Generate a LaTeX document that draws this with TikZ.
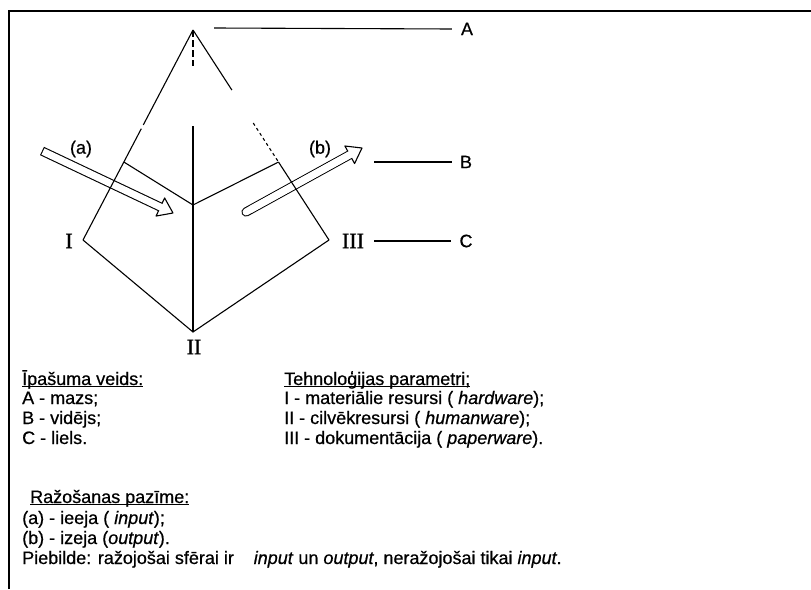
\documentclass[tikz,border=0pt]{standalone}
\usepackage{fontspec}
\setmainfont{Liberation Sans}[FakeBold=0.6]
\newfontfamily\romfont{Liberation Serif}[FakeBold=1.2]
\usetikzlibrary{calc}
\newcommand{\ulhead}[1]{\underline{\smash{#1}}}
\begin{document}
\begin{tikzpicture}[x=1pt,y=-1pt,
  edge/.style={line width=1.1pt},
  frameline/.style={line width=2pt},
  txt/.style={anchor=base west, inner sep=0pt, font=\fontsize{18}{20}\selectfont},
  lbl/.style={inner sep=0pt, font=\fontsize{18}{20}\selectfont},
  roman/.style={inner sep=0pt, font=\romfont\fontsize{22}{24}\selectfont},
]
\useasboundingbox (0,0) rectangle (811,589);
\draw[frameline] (9,589) -- (9,11) -- (811,11);

% pyramid points
\coordinate (apex) at (193,30);
\coordinate (vI) at (83,240);
\coordinate (vIII) at (329,240);
\coordinate (vII) at (193,332);
\coordinate (inL) at ($(apex)!0.6286!(vI)$);
\coordinate (inR) at ($(apex)!0.6286!(vIII)$);
\coordinate (inC) at (193,205);

% arrow (a)
\coordinate (aT) at (42,151);
\coordinate (aP) at (173,213);
\coordinate (aB) at ($(aP)!14pt!(aT)$);
\draw[line width=9.2pt] (aT) -- (aB);
\filldraw[fill=white, line width=1.1pt, line join=round] (aP) -- ($(aB)!10pt!90:(aT)$) -- ($(aB)!10pt!-90:(aT)$) -- cycle;
\draw[white, line width=7pt] ($(aT)!1.1pt!(aP)$) -- ($(aB)!-1.5pt!(aT)$);

% arrow (b)
\coordinate (bT) at (246,212);
\coordinate (bP) at (362,148);
\coordinate (bB) at ($(bP)!14pt!(bT)$);
\draw[line width=9.2pt, line cap=round] (bT) -- (bB);
\filldraw[fill=white, line width=1.1pt, line join=round] (bP) -- ($(bB)!10pt!90:(bT)$) -- ($(bB)!10pt!-90:(bT)$) -- cycle;
\draw[white, line width=7pt, line cap=round] (bT) -- (bB);
\draw[white, line width=7pt] ($(bT)!5pt!(bP)$) -- ($(bB)!-1.5pt!(bT)$);

% edges
\draw[edge] (apex) -- ($(apex)!0.452!(vI)$);
\draw[edge] ($(apex)!0.47!(vI)$) -- (vI);
\draw[edge] (apex) -- ($(apex)!0.286!(vIII)$);
\draw[edge, dash pattern=on 3pt off 3pt] ($(apex)!0.443!(vIII)$) -- (inR);
\draw[edge] (inR) -- (vIII);
\draw[edge, dash pattern=on 7pt off 3pt] (apex) -- (193,66);
\draw[edge] (193,126) -- (vII);
\draw[edge] (inL) -- (inC) -- (inR);
\draw[edge] (vI) -- (vII) -- (vIII);

% labels
\node[roman] (lI) at (69,241) {I};
\node[roman] (lII) at (194,347) {II};
\node[roman] (lIII) at (353,241) {III};
\node[lbl] (lA) at (467,29) {A};
\node[lbl] (lB) at (466,162) {B};
\node[lbl] (lC) at (466,241) {C};
\node[lbl] (la) at (81,149) {(a)};
\node[lbl] (lb) at (320,149) {(b)};
\coordinate (aS) at (214,28);
\coordinate (bS) at (374,162);
\draw[edge] (aS) -- ([xshift=-9pt]lA.west);
\draw[edge] (bS) -- ([xshift=-8pt]lB.west);
\draw[edge] ([xshift=10pt]lIII.east) -- ([xshift=-8pt]lC.west);

% text
\node[txt] (t1) at (22,385) {\ulhead{Īpašuma veids:}};
\node[txt] (t2) at (22,404) {A - mazs;};
\node[txt] (t3) at (22,424) {B - vidējs;};
\node[txt] (t4) at (22,444) {C - liels.};
\node[txt] (u1) at (284,385) {\ulhead{Tehnoloģijas parametri;}};
\node[txt] (u2) at (284,404) {I - materiālie resursi ( \textit{hardware});};
\node[txt] (u3) at (284,424) {II - cilvēkresursi ( \textit{humanware});};
\node[txt] (u4) at (284,444) {III - dokumentācija ( \textit{paperware}).};
\node[txt] (v1) at (30,503) {\ulhead{Ražošanas pazīme:}};
\node[txt] (v2) at (22,524) {(a) - ieeja ( \textit{input});};
\node[txt] (v3) at (22,544) {(b) - izeja (\textit{output}).};
\node[txt] (v4) at (22,564) {Piebilde: ražojošai sfērai ir\hspace{1.1em}\textit{input} un \textit{output}, neražojošai tikai \textit{input}.};
\end{tikzpicture}
\end{document}
